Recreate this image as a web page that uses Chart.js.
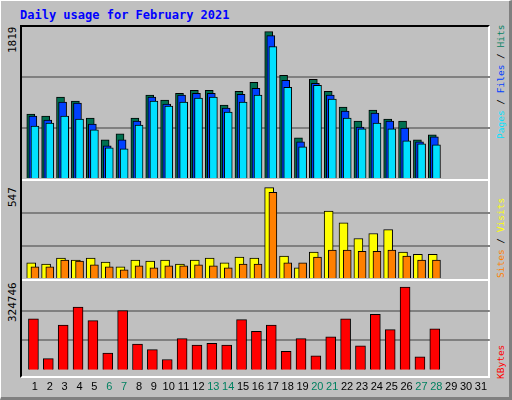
<!DOCTYPE html>
<html>
<head>
<script src="https://cdn.jsdelivr.net/npm/chart.js@4"></script>
<style>
body{margin:0;background:#fff}
#wrap{position:absolute;left:0;top:0;width:508px;height:396px;background:#c0c0c0;border-top:1px solid #fff;border-left:1px solid #fff;border-right:3px solid #808080;border-bottom:3px solid #808080;font-family:"DejaVu Sans Mono",monospace}
#title{position:absolute;left:19px;top:7px;color:#0000ff;font-weight:bold;font-size:12px}
#frame{position:absolute;left:19px;top:24px;width:470px;height:353px;border-left:2px solid #000;border-top:2px solid #000;border-right:2px solid #fff;border-bottom:2px solid #fff;box-sizing:border-box}
.sep{position:absolute;left:21px;width:468px;height:2px;background:#fff}
.box{position:absolute;left:21px;width:468px}
.rot{position:absolute;transform-origin:left top;transform:rotate(-90deg);white-space:nowrap;font-size:9.5px}
</style>
</head>
<body>
<div id="wrap">
<div id="title">Daily usage for February 2021</div>
<div id="frame"></div>
<div class="sep" style="top:178px"></div>
<div class="sep" style="top:278px"></div>
<div class="box" style="top:26px;height:151px"><canvas id="c1"></canvas></div>
<div class="box" style="top:180px;height:97px"><canvas id="c2"></canvas></div>
<div class="box" style="top:280px;height:116px"><canvas id="c3"></canvas></div>
<div class="rot" style="left:5px;top:52px;color:#000;font-size:11px">1819</div>
<div class="rot" style="left:5px;top:206px;color:#000;font-size:11px">547</div>
<div class="rot" style="left:5px;top:321px;color:#000;font-size:11px">324746</div>
<div class="rot" style="left:494px;top:138px"><span style="color:#00e0ff">Pages</span> / <span style="color:#0040ff">Files</span> / <span style="color:#008060">Hits</span></div>
<div class="rot" style="left:494px;top:277px"><span style="color:#ff8000">Sites</span> / <span style="color:#ffff00">Visits</span></div>
<div class="rot" style="left:494px;top:378px;color:#ff0000">KBytes</div>
</div>
<script>
var days = [1,2,3,4,5,6,7,8,9,10,11,12,13,14,15,16,17,18,19,20,21,22,23,24,25,26,27,28,29,30,31];
var weekend = [6,7,13,14,20,21,27,28];
var hits  = [770,746,974,926,722,459,531,722,998,938,1021,1057,1057,878,1045,1153,1764,1237,483,1189,1045,854,686,818,710,686,459,519];
var files = [746,698,914,902,650,387,459,686,974,890,998,1021,1021,842,1009,1081,1716,1177,435,1141,998,806,614,782,686,602,435,495];
var pages = [626,662,746,710,579,363,351,638,926,866,914,962,974,794,914,998,1584,1093,375,1117,950,722,591,662,591,447,411,399];
var visits = [85,79,112,101,112,90,63,101,96,101,79,101,112,85,118,112,510,123,57,146,378,311,223,251,273,146,134,134];
var sites  = [63,63,101,96,74,63,46,68,57,68,68,74,68,57,79,79,483,85,85,118,157,157,151,151,157,123,101,101];
var kbytes = [186700,40900,163500,229800,180000,60800,216500,93900,74000,37600,113800,90600,97200,90600,183400,140300,163500,67400,113800,50800,120400,186700,87300,203200,146900,302700,47500,150200];

function pts(arr, off){ return arr.map(function(v,i){ return {x: days[i]+off, y: v}; }); }
function ds(arr, off, color, w, ord){
  return {data: pts(arr, off), backgroundColor: color, borderColor: '#000', borderWidth: 1, barThickness: w, grouped: false, order: ord};
}
function opts(max, showX){
  return {
    responsive: true, maintainAspectRatio: false, animation: false,
    layout: {padding: 0},
    plugins: {legend: {display: false}, tooltip: {enabled: false}},
    scales: {
      x: {type: 'linear', min: 0.13, max: 31.6, display: showX, offset: false,
          afterBuildTicks: function(s){ s.ticks = days.map(function(d){ return {value: d}; }); },
          grid: {display: false}, border: {display: false},
          ticks: {font: {family: 'Liberation Sans', size: 11}, padding: 3, autoSkip: false, maxRotation: 0,
                  color: function(c){ return weekend.indexOf(c.tick.value) >= 0 ? '#008060' : '#000'; }}},
      y: {min: 0, max: max, display: true,
          afterBuildTicks: function(s){ s.ticks = [{value: max/3}, {value: max*2/3}]; },
          ticks: {display: false}, border: {display: false},
          grid: {color: '#808080', lineWidth: 2, drawTicks: false}}
    }
  };
}
new Chart('c1', {type: 'bar', data: {datasets: [
  ds(hits, -0.28, '#007050', 8, 2), ds(files, -0.14, '#0040ff', 8, 1), ds(pages, 0, '#00e0ff', 8, 0)
]}, options: opts(1819, false)});
new Chart('c2', {type: 'bar', data: {datasets: [
  ds(visits, -0.25, '#ffff00', 9, 1), ds(sites, 0, '#ff8000', 8, 0)
]}, options: opts(547, false)});
new Chart('c3', {type: 'bar', data: {datasets: [
  ds(kbytes, -0.1, '#ff0000', 10, 0)
]}, options: opts(324746, true)});
</script>
</body>
</html>
